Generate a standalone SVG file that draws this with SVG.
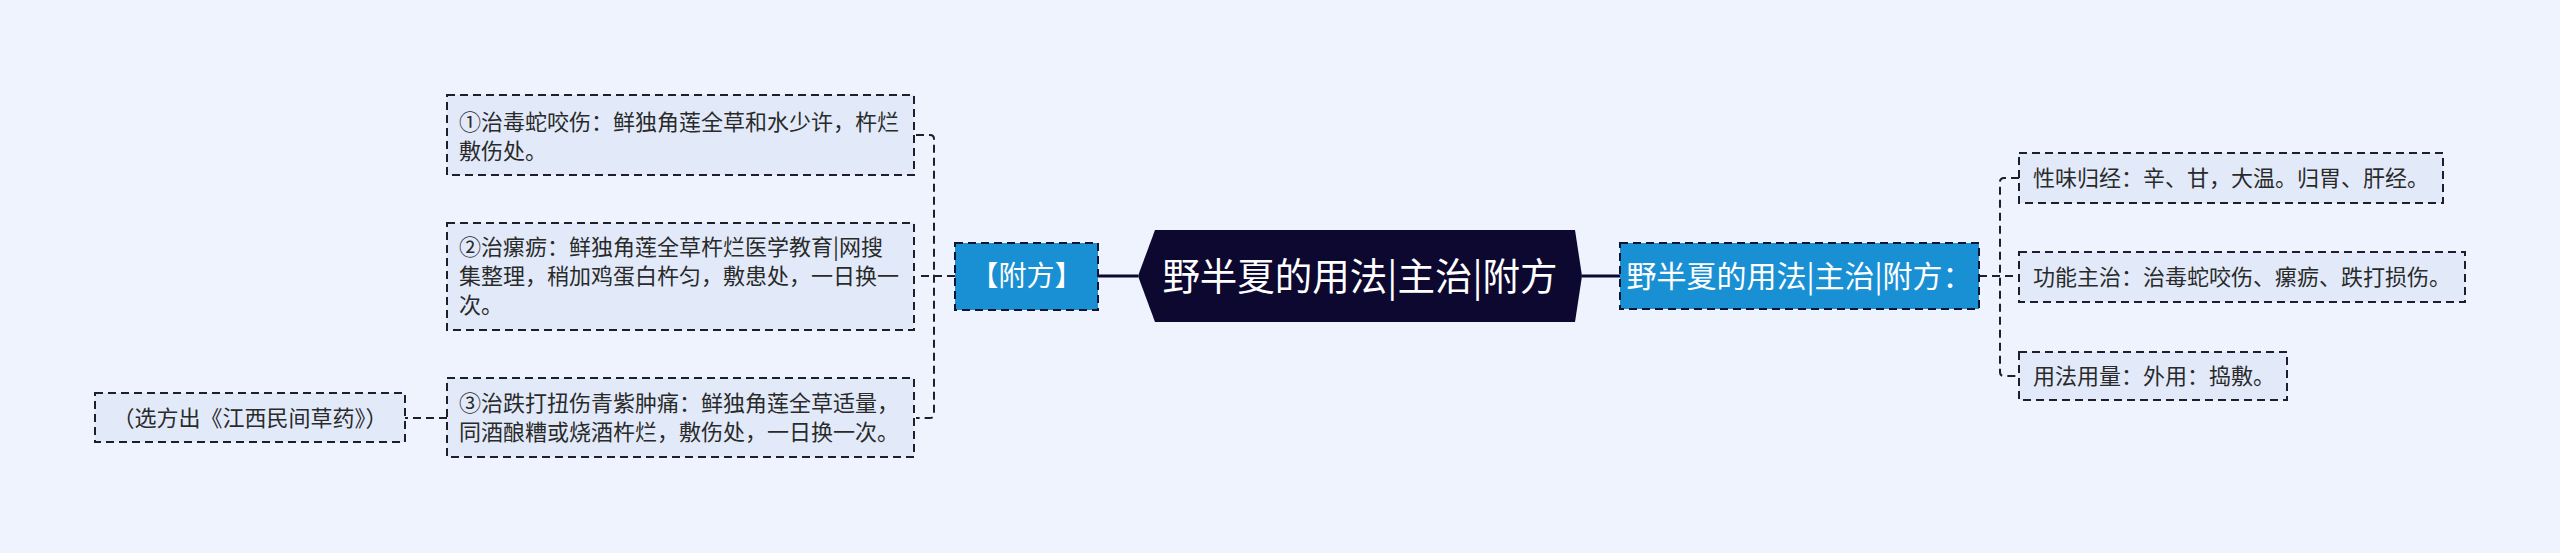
<svg xmlns="http://www.w3.org/2000/svg" width="2560" height="553" viewBox="0 0 2560 553">
<style>
.leaf{fill:#e2eafa;stroke:#1e1e2e;stroke-width:2;stroke-dasharray:8 5}
.blue{fill:#1a90d4;stroke:#0b1633;stroke-width:2;stroke-dasharray:8 5}
.t{font-family:"Noto Sans CJK SC","Noto Sans",sans-serif;font-size:22px;fill:#2a2a2a}
.w{font-family:"Noto Sans CJK SC","Noto Sans",sans-serif;fill:#ffffff}
.dash{fill:none;stroke:#1e1e2e;stroke-width:2;stroke-dasharray:8 5}
.solid{fill:none;stroke:#0c0830;stroke-width:3}
</style>
<rect x="0" y="0" width="2560" height="553" fill="#eef3fd"/>
<g id="connectors">
<path class="solid" d="M1138,276 H1098"/>
<path class="solid" d="M1582,276 H1620"/>
<path class="dash" d="M955,276 H916"/>
<path class="dash" d="M916,135 H930 Q934,135 934,139 V414 Q934,418 930,418 H916"/>
<path class="dash" d="M447,418 H405"/>
<path class="dash" d="M1979,276 H2019"/>
<path class="dash" d="M2019,178 H2004 Q2000,178 2000,182 V372 Q2000,376 2004,376 H2019"/>
</g>
<g id="center">
<polygon points="1138,276 1155,230 1575,230 1582,276 1575,322 1155,322" fill="#0c0830"/>
<text class="w" x="1360" y="290" font-size="37.5" text-anchor="middle">野半夏的用法|主治|附方</text>
</g>
<g id="fufang">
<rect class="blue" x="955" y="243" width="143" height="67"/>
<text class="w" x="1026.5" y="286" font-size="28" text-anchor="middle">【附方】</text>
</g>
<g id="right-main">
<rect class="blue" x="1620" y="243" width="359" height="66"/>
<text class="w" x="1799.5" y="287" font-size="30" text-anchor="middle">野半夏的用法|主治|附方：</text>
</g>
<g id="r1">
<rect class="leaf" x="2019" y="153" width="424" height="50"/>
<text class="t" x="2033" y="186">性味归经：辛、甘，大温。归胃、肝经。</text>
</g>
<g id="r2">
<rect class="leaf" x="2019" y="252" width="446" height="50"/>
<text class="t" x="2033" y="285">功能主治：治毒蛇咬伤、瘰疬、跌打损伤。</text>
</g>
<g id="r3">
<rect class="leaf" x="2019" y="352" width="268" height="48"/>
<text class="t" x="2033" y="384">用法用量：外用：捣敷。</text>
</g>
<g id="l1">
<rect class="leaf" x="447" y="95" width="467" height="80"/>
<text class="t" x="459" y="130">①治毒蛇咬伤：鲜独角莲全草和水少许，杵烂</text>
<text class="t" x="459" y="159">敷伤处。</text>
</g>
<g id="l2">
<rect class="leaf" x="447" y="223" width="467" height="107"/>
<text class="t" x="459" y="255">②治瘰疬：鲜独角莲全草杵烂医学教育|网搜</text>
<text class="t" x="459" y="284">集整理，稍加鸡蛋白杵匀，敷患处，一日换一</text>
<text class="t" x="459" y="313">次。</text>
</g>
<g id="l3">
<rect class="leaf" x="447" y="378" width="467" height="79"/>
<text class="t" x="459" y="411">③治跌打扭伤青紫肿痛：鲜独角莲全草适量，</text>
<text class="t" x="459" y="440">同酒酿糟或烧酒杵烂，敷伤处，一日换一次。</text>
</g>
<g id="source">
<rect class="leaf" x="95" y="393" width="310" height="49"/>
<text class="t" x="250" y="426" text-anchor="middle">（选方出《江西民间草药》）</text>
</g>
</svg>
